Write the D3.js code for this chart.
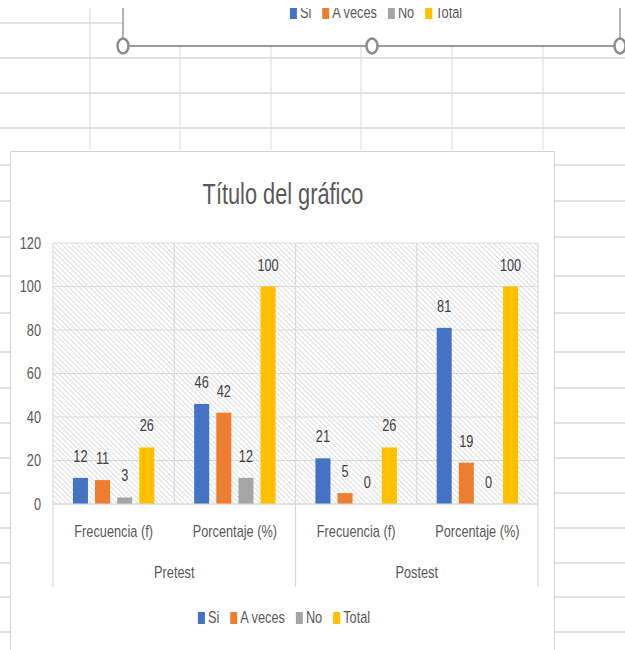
<!DOCTYPE html>
<html>
<head>
<meta charset="utf-8">
<script src="https://cdn.jsdelivr.net/npm/d3@7"></script>
<style>
  html, body { margin: 0; padding: 0; background: #fff; }
  svg text { font-family: "Liberation Sans", Arial, sans-serif; }
</style>
</head>
<body>
<svg id="chart" width="625" height="650"></svg>
<script>
// chart data
const groups = ["Pretest", "Postest"];
const measures = ["Frecuencia (f)", "Porcentaje (%)"];
const series = ["Si", "A veces", "No", "Total"];
const si = [12, 46, 21, 81];
const aVeces = [11, 42, 5, 19];
const no = [3, 12, 0, 0];
const total = [26, 100, 26, 100];
const yTicks = [0, 20, 40, 60, 80, 100, 120];
const colors = ["#4472C4", "#ED7D31", "#A5A5A5", "#FFC000"];

const values = [si, aVeces, no, total];
const categories = [];
groups.forEach(g => measures.forEach(m => categories.push(g + "|" + m)));

const svg = d3.select("#chart");
const gridCol = "#dadada";
const textCol = "#595959";
const fs = 17;
const narrow = 0.75;

// the screenshot text is squashed sideways, so shrink each text run
function squeeze(sel, k = narrow) {
  sel.each(function() {
    const len = this.getComputedTextLength();
    d3.select(this).attr("textLength", len * k).attr("lengthAdjust", "spacingAndGlyphs");
  });
}

// --- spreadsheet behind the chart ---
const sheet = svg.append("g").attr("class", "sheet");
const rowLines = [58, 93, 128, 165, 201, 237, 276, 313, 352, 388, 423, 458, 493, 528, 563, 597, 632];
sheet.selectAll("line.row")
    .data(rowLines).enter()
  .append("line")
    .attr("class", "row")
    .attr("x1", 0).attr("x2", 625)
    .attr("y1", d => d).attr("y2", d => d)
    .attr("stroke", gridCol).attr("stroke-width", 1.5);
sheet.append("line")
    .attr("x1", 0).attr("x2", 123).attr("y1", 23).attr("y2", 23)
    .attr("stroke", gridCol).attr("stroke-width", 1.5);
sheet.append("line")
    .attr("x1", 90).attr("x2", 90).attr("y1", 8).attr("y2", 150)
    .attr("stroke", gridCol);
sheet.selectAll("line.col")
    .data([180, 271, 361, 452, 543]).enter()
  .append("line")
    .attr("class", "col")
    .attr("x1", d => d).attr("x2", d => d)
    .attr("y1", 46).attr("y2", 150)
    .attr("stroke", gridCol);

function drawLegend(g, cx, baseline) {
  const items = g.selectAll("g.item")
      .data(series).enter()
    .append("g").attr("class", "item");
  items.append("rect")
      .attr("width", 7).attr("height", 12)
      .attr("y", baseline - 11)
      .attr("fill", (d, i) => colors[i]);
  items.append("text")
      .attr("x", 10).attr("y", baseline)
      .attr("font-size", fs).attr("fill", textCol)
      .text(d => d)
      .call(squeeze);
  let x = 0;
  const pos = [];
  items.each(function() {
    pos.push(x);
    x += 10 + +this.querySelector("text").getAttribute("textLength") + 11;
  });
  const start = cx - (x - 11) / 2;
  items.attr("transform", (d, i) => `translate(${start + pos[i]},0)`);
}

// --- bottom of the chart above (selected, with handles) ---
const upper = svg.append("g");
upper.append("rect")
    .attr("x", 123).attr("y", 0).attr("width", 497).attr("height", 46)
    .attr("fill", "#fff");
drawLegend(upper.append("g"), 376, 18);
// top strip hides the rest of the sheet
upper.append("rect")
    .attr("x", 0).attr("y", 0).attr("width", 625).attr("height", 8)
    .attr("fill", "#fff");
upper.selectAll("line.side")
    .data([123, 620]).enter()
  .append("line")
    .attr("x1", d => d).attr("x2", d => d)
    .attr("y1", 8).attr("y2", 46)
    .attr("stroke", "#9a9a9a").attr("stroke-width", 1.5);
upper.append("line")
    .attr("x1", 123).attr("x2", 620).attr("y1", 46).attr("y2", 46)
    .attr("stroke", "#9a9a9a").attr("stroke-width", 2);
upper.selectAll("ellipse")
    .data([123, 372, 620]).enter()
  .append("ellipse")
    .attr("cx", d => d).attr("cy", 46)
    .attr("rx", 5.5).attr("ry", 7.5)
    .attr("fill", "#fff")
    .attr("stroke", "#8c8c8c").attr("stroke-width", 2.5);

// --- main chart box ---
svg.append("rect")
    .attr("x", 10.5).attr("y", 151.5).attr("width", 544).attr("height", 520)
    .attr("fill", "#fff").attr("stroke", "#d4d4d4");

svg.append("text")
    .attr("x", 283).attr("y", 204)
    .attr("text-anchor", "middle")
    .attr("font-size", 29).attr("fill", textCol)
    .text("Título del gráfico")
    .call(squeeze);

const x0 = d3.scaleBand().domain(categories).range([53, 538]);
const x1 = d3.scaleBand().domain(series).range([0, x0.bandwidth()])
    .paddingInner(0.32).paddingOuter(0.9);
const y = d3.scaleLinear().domain([0, 120]).range([504, 243]);

// hatched plot background
const defs = svg.append("defs");
const pat = defs.append("pattern")
    .attr("id", "hatch")
    .attr("patternUnits", "userSpaceOnUse")
    .attr("width", 3.6).attr("height", 3.6)
    .attr("patternTransform", "rotate(-45)");
pat.append("rect").attr("width", 3.6).attr("height", 3.6).attr("fill", "#fff");
pat.append("line")
    .attr("x1", 0).attr("x2", 0).attr("y1", 0).attr("y2", 3.6)
    .attr("stroke", "#c9c9c9").attr("stroke-width", 1.2);

const plot = svg.append("g");
plot.append("rect")
    .attr("x", x0.range()[0]).attr("y", y(120))
    .attr("width", x0.range()[1] - x0.range()[0])
    .attr("height", y(0) - y(120))
    .attr("fill", "url(#hatch)");

plot.selectAll("line.hgrid")
    .data(yTicks).enter()
  .append("line")
    .attr("x1", x0.range()[0]).attr("x2", x0.range()[1])
    .attr("y1", d => y(d)).attr("y2", d => y(d))
    .attr("stroke", gridCol).attr("stroke-width", 1.2);

const bounds = categories.map(c => x0(c)).concat([x0.range()[1]]);
plot.selectAll("line.vgrid")
    .data(bounds).enter()
  .append("line")
    .attr("x1", d => d).attr("x2", d => d)
    .attr("y1", y(120)).attr("y2", y(0))
    .attr("stroke", gridCol).attr("stroke-width", 1.2);

// y axis labels
const yAxis = plot.append("g")
    .attr("transform", `translate(${x0.range()[0]},0)`)
    .call(d3.axisLeft(y).tickValues(yTicks).tickSize(0).tickPadding(12));
yAxis.select(".domain").remove();
yAxis.selectAll("text")
    .attr("font-size", fs).attr("font-family", null)
    .attr("fill", textCol)
    .call(squeeze);

// bars
const rows = [];
categories.forEach((c, ci) => series.forEach((s, k) => {
  rows.push({ cat: c, s: s, i: k, v: values[k][ci] });
}));
plot.selectAll("rect.bar")
    .data(rows).enter()
  .append("rect")
    .attr("class", "bar")
    .attr("x", d => x0(d.cat) + x1(d.s))
    .attr("width", x1.bandwidth())
    .attr("y", d => y(d.v))
    .attr("height", d => y(0) - y(d.v))
    .attr("fill", d => colors[d.i]);

plot.selectAll("text.lbl")
    .data(rows).enter()
  .append("text")
    .attr("class", "lbl")
    .attr("x", d => x0(d.cat) + x1(d.s) + x1.bandwidth() / 2)
    .attr("y", d => y(d.v) - 16)
    .attr("text-anchor", "middle")
    .attr("font-size", fs).attr("fill", "#404040")
    .text(d => d.v)
    .call(squeeze);

// category axis: line, labels, group separators
plot.append("line")
    .attr("x1", x0.range()[0]).attr("x2", x0.range()[1])
    .attr("y1", y(0)).attr("y2", y(0))
    .attr("stroke", gridCol).attr("stroke-width", 1.2);

plot.selectAll("text.cat")
    .data(categories).enter()
  .append("text")
    .attr("x", d => x0(d) + x0.bandwidth() / 2)
    .attr("y", 537)
    .attr("text-anchor", "middle")
    .attr("font-size", fs).attr("fill", textCol)
    .text(d => d.split("|")[1])
    .call(squeeze);

const groupW = x0.bandwidth() * measures.length;
plot.selectAll("text.grp")
    .data(groups).enter()
  .append("text")
    .attr("x", (d, i) => x0.range()[0] + groupW * (i + 0.5))
    .attr("y", 578)
    .attr("text-anchor", "middle")
    .attr("font-size", fs).attr("fill", textCol)
    .text(d => d)
    .call(squeeze);

plot.selectAll("line.gsep")
    .data(d3.range(groups.length + 1)).enter()
  .append("line")
    .attr("x1", i => x0.range()[0] + groupW * i)
    .attr("x2", i => x0.range()[0] + groupW * i)
    .attr("y1", y(0)).attr("y2", 587)
    .attr("stroke", gridCol).attr("stroke-width", 1.2);

drawLegend(svg.append("g"), 284, 623);
</script>
</body>
</html>
